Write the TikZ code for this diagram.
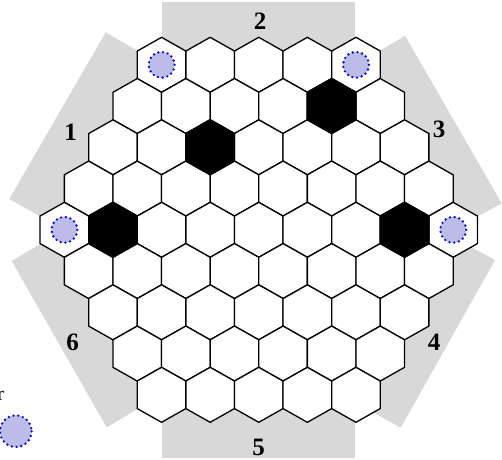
\documentclass[tikz,border=0pt]{standalone}
\usepackage{fontspec}
\setmainfont{Liberation Serif}
\definecolor{zonegray}{RGB}{216,216,216}
\definecolor{stonefill}{RGB}{187,189,232}
\definecolor{stonedot}{RGB}{10,10,190}
\tikzset{
  zone/.style={fill=zonegray, draw=none},
  hexcell/.style={draw=black, line width=1.3pt, fill=white, line join=miter},
  blackcell/.style={draw=black, line width=1.3pt, fill=black},
  stone/.style={fill=stonefill, draw=stonedot, line width=2.6pt, line cap=round, dash pattern=on 0pt off 4.8pt},
  sidelabel/.style={font=\fontsize{25}{25}\selectfont\bfseries, inner sep=0pt, anchor=base},
  legendlabel/.style={font=\fontsize{20}{20}\selectfont, inner sep=0pt, anchor=base east}
}
\newcommand\boardhex[3]{%
  \pgfmathtruncatemacro\hn{9-abs(#1-4)}%
  \pgfmathsetmacro\hx{258.75+48.6*(#2-(\hn-1)/2)}%
  \pgfmathsetmacro\hy{64.8+41.25*#1}%
  \draw[#3] (\hx,\hy) +(0,-27.5) -- +(24.3,-13.75) -- +(24.3,13.75) -- +(0,27.5) -- +(-24.3,13.75) -- +(-24.3,-13.75) -- cycle;%
}
\newcommand\boardstone[2]{%
  \pgfmathtruncatemacro\hn{9-abs(#1-4)}%
  \pgfmathsetmacro\hx{258.75+48.6*(#2-(\hn-1)/2)}%
  \pgfmathsetmacro\hy{64.8+41.25*#1}%
  \draw[stone] (\hx,\hy) circle[radius=13];%
}
\begin{document}
\begin{tikzpicture}[x=1pt,y=-1pt]
\useasboundingbox (0,0) rectangle (502,459);
\clip (0,0) rectangle (502,459);
% side zones
\fill[zone] (161.55,64.8) -- (105.7,32.3) -- (9.3,199) -- (64.3,229.8) -- cycle;
\fill[zone] (161.7,1.7) -- (355.3,1.7) -- (355.3,64.8) -- (161.7,64.8) -- cycle;
\fill[zone] (356,64.8) -- (405,35.7) -- (501.7,203.3) -- (453.2,229.8) -- cycle;
\fill[zone] (453.2,237.3) -- (495,260) -- (400.7,427.7) -- (356,402.7) -- cycle;
\fill[zone] (161.7,394.8) -- (355.3,394.8) -- (355.3,458) -- (161.7,458) -- cycle;
\fill[zone] (64.3,229.8) -- (11.7,261) -- (106.7,427.3) -- (161.55,394.8) -- cycle;
% board
\foreach \r in {0,...,8}{
  \pgfmathtruncatemacro\rn{9-abs(\r-4)}
  \pgfmathtruncatemacro\rm{\rn-1}
  \foreach \k in {0,...,\rm}{
    \boardhex{\r}{\k}{hexcell}
  }
}
\boardhex{1}{4}{blackcell}
\boardhex{2}{2}{blackcell}
\boardhex{4}{1}{blackcell}
\boardhex{4}{7}{blackcell}
% stones
\boardstone{0}{0}
\boardstone{0}{4}
\boardstone{4}{0}
\boardstone{4}{8}
% labels
\node[sidelabel] (l1) at (70.5,140) {1};
\node[sidelabel] (l2) at (260,29.3) {2};
\node[sidelabel] (l3) at (439,137.3) {3};
\node[sidelabel] (l4) at (434,350.7) {4};
\node[sidelabel] (l5) at (258.5,455.7) {5};
\node[sidelabel] (l6) at (72.7,350.7) {6};
% legend
\node[legendlabel] (lr) at (4.3,400.7) {r};
\draw[stone] (15.8,431.2) circle[radius=15.8];
\end{tikzpicture}
\end{document}
